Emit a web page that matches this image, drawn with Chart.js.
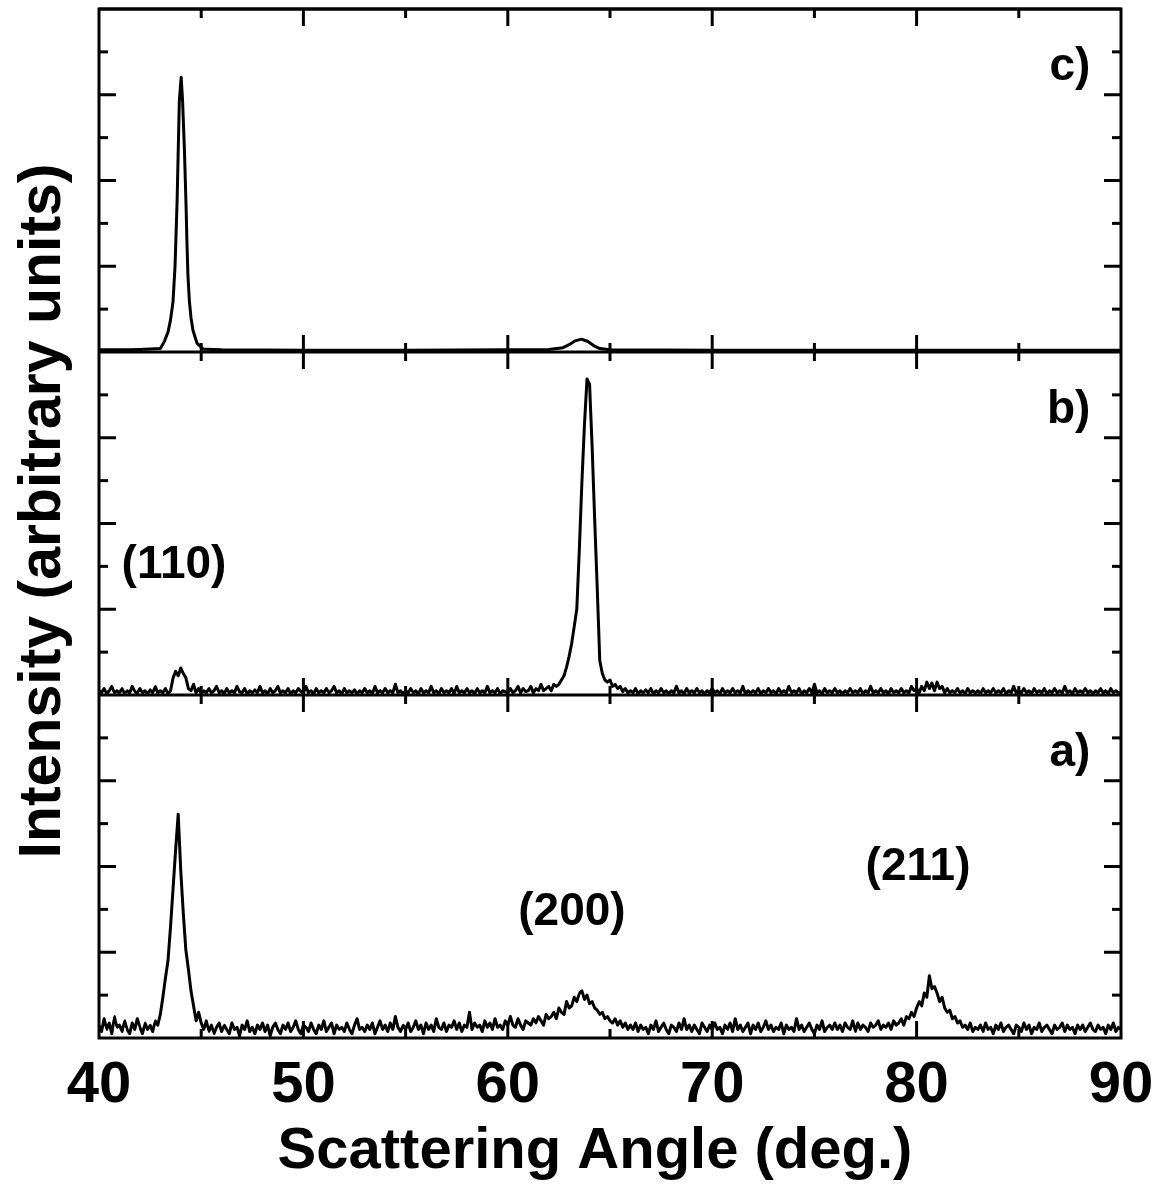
<!DOCTYPE html>
<html>
<head>
<meta charset="utf-8">
<script src="https://cdn.jsdelivr.net/npm/chart.js@4/dist/chart.umd.min.js"></script>
<style>
html,body{margin:0;padding:0;background:#fff;}
#wrap{width:1159px;height:1185px;}
</style>
</head>
<body>
<div id="wrap"><canvas id="c" width="1159" height="1185"></canvas></div>
<script>
// ---------- data ----------
// shared scattering-angle grid for scans a) and b)
const angles = [
40,40.125,40.25,40.375,40.5,40.625,40.75,40.875,
41,41.125,41.25,41.375,41.5,41.625,41.75,41.875,
42,42.125,42.25,42.375,42.5,42.625,42.75,42.875,
43,43.125,43.25,43.375,43.5,43.625,43.75,43.875,
44,44.125,44.25,44.375,44.5,44.625,44.75,44.875,
45,45.125,45.25,45.375,45.5,45.625,45.75,45.875,
46,46.125,46.25,46.375,46.5,46.625,46.75,46.875,
47,47.125,47.25,47.375,47.5,47.625,47.75,47.875,
48,48.125,48.25,48.375,48.5,48.625,48.75,48.875,
49,49.125,49.25,49.375,49.5,49.625,49.75,49.875,
50,50.125,50.25,50.375,50.5,50.625,50.75,50.875,
51,51.125,51.25,51.375,51.5,51.625,51.75,51.875,
52,52.125,52.25,52.375,52.5,52.625,52.75,52.875,
53,53.125,53.25,53.375,53.5,53.625,53.75,53.875,
54,54.125,54.25,54.375,54.5,54.625,54.75,54.875,
55,55.125,55.25,55.375,55.5,55.625,55.75,55.875,
56,56.125,56.25,56.375,56.5,56.625,56.75,56.875,
57,57.125,57.25,57.375,57.5,57.625,57.75,57.875,
58,58.125,58.25,58.375,58.5,58.625,58.75,58.875,
59,59.125,59.25,59.375,59.5,59.625,59.75,59.875,
60,60.125,60.25,60.375,60.5,60.625,60.75,60.875,
61,61.125,61.25,61.375,61.5,61.625,61.75,61.875,
62,62.125,62.25,62.375,62.5,62.625,62.75,62.875,
63,63.125,63.25,63.375,63.5,63.625,63.75,63.875,
64,64.125,64.25,64.375,64.5,64.625,64.75,64.875,
65,65.125,65.25,65.375,65.5,65.625,65.75,65.875,
66,66.125,66.25,66.375,66.5,66.625,66.75,66.875,
67,67.125,67.25,67.375,67.5,67.625,67.75,67.875,
68,68.125,68.25,68.375,68.5,68.625,68.75,68.875,
69,69.125,69.25,69.375,69.5,69.625,69.75,69.875,
70,70.125,70.25,70.375,70.5,70.625,70.75,70.875,
71,71.125,71.25,71.375,71.5,71.625,71.75,71.875,
72,72.125,72.25,72.375,72.5,72.625,72.75,72.875,
73,73.125,73.25,73.375,73.5,73.625,73.75,73.875,
74,74.125,74.25,74.375,74.5,74.625,74.75,74.875,
75,75.125,75.25,75.375,75.5,75.625,75.75,75.875,
76,76.125,76.25,76.375,76.5,76.625,76.75,76.875,
77,77.125,77.25,77.375,77.5,77.625,77.75,77.875,
78,78.125,78.25,78.375,78.5,78.625,78.75,78.875,
79,79.125,79.25,79.375,79.5,79.625,79.75,79.875,
80,80.125,80.25,80.375,80.5,80.625,80.75,80.875,
81,81.125,81.25,81.375,81.5,81.625,81.75,81.875,
82,82.125,82.25,82.375,82.5,82.625,82.75,82.875,
83,83.125,83.25,83.375,83.5,83.625,83.75,83.875,
84,84.125,84.25,84.375,84.5,84.625,84.75,84.875,
85,85.125,85.25,85.375,85.5,85.625,85.75,85.875,
86,86.125,86.25,86.375,86.5,86.625,86.75,86.875,
87,87.125,87.25,87.375,87.5,87.625,87.75,87.875,
88,88.125,88.25,88.375,88.5,88.625,88.75,88.875,
89,89.125,89.25,89.375,89.5,89.625,89.75,89.875,
90];

// scan a) (bottom panel)
const intensityA = [
0.3,0.15,0.45,0.2,0.35,0.1,0.5,0.25,
0.3,0.15,0.4,0.2,0.1,0.35,0.2,0.45,
0.25,0.1,0.35,0.2,0.3,0.15,0.4,0.3,
0.55,0.95,1.4,1.8,2.6,3.5,4.4,5.22,
3.9,2.9,2.05,1.6,1.1,0.75,0.4,0.6,
0.35,0.2,0.4,0.15,0.3,0.1,0.25,0.35,
0.15,0.3,0.2,0.1,0.35,0.2,0.25,0.05,
0.3,0.2,0.4,0.15,0.25,0.1,0.3,0.2,
0.35,0.15,0.3,0.05,0.25,0.35,0.2,0.1,
0.3,0.2,0.35,0.15,0.25,0.4,0.2,0.1,
0.3,0.25,0.15,0.35,0.2,0.1,0.3,0.2,
0.4,0.15,0.25,0.35,0.1,0.3,0.2,0.25,
0.15,0.35,0.2,0.1,0.3,0.45,0.2,0.25,
0.15,0.3,0.2,0.35,0.1,0.25,0.4,0.2,
0.3,0.15,0.35,0.2,0.5,0.25,0.15,0.3,
0.2,0.35,0.15,0.25,0.4,0.2,0.3,0.1,
0.35,0.2,0.3,0.15,0.45,0.25,0.2,0.35,
0.15,0.3,0.25,0.4,0.2,0.35,0.15,0.3,
0.25,0.6,0.2,0.35,0.25,0.3,0.15,0.4,
0.25,0.35,0.2,0.45,0.25,0.3,0.2,0.4,
0.3,0.5,0.3,0.25,0.45,0.3,0.2,0.4,
0.35,0.3,0.45,0.35,0.5,0.4,0.3,0.55,
0.45,0.5,0.6,0.45,0.7,0.6,0.55,0.85,
0.7,0.75,0.95,0.85,1.05,1.1,0.9,1.0,
0.8,0.85,0.7,0.65,0.55,0.6,0.45,0.5,
0.4,0.35,0.45,0.3,0.4,0.25,0.35,0.2,
0.3,0.2,0.35,0.15,0.3,0.2,0.25,0.1,
0.3,0.2,0.4,0.15,0.25,0.35,0.2,0.1,
0.3,0.25,0.15,0.35,0.2,0.45,0.2,0.3,
0.15,0.3,0.2,0.1,0.35,0.25,0.15,0.3,
0.2,0.35,0.2,0.25,0.1,0.3,0.2,0.35,
0.15,0.45,0.2,0.3,0.15,0.25,0.35,0.1,
0.3,0.2,0.35,0.15,0.25,0.4,0.2,0.3,
0.15,0.25,0.2,0.35,0.1,0.3,0.2,0.25,
0.15,0.45,0.2,0.3,0.15,0.25,0.35,0.2,
0.1,0.3,0.2,0.4,0.15,0.25,0.3,0.2,
0.35,0.2,0.3,0.15,0.35,0.25,0.2,0.4,
0.15,0.35,0.2,0.3,0.25,0.15,0.35,0.25,
0.3,0.4,0.2,0.3,0.25,0.35,0.2,0.4,
0.3,0.35,0.45,0.3,0.5,0.45,0.6,0.5,
0.7,0.85,0.75,1.05,0.95,1.45,1.15,1.2,
1.05,0.85,0.95,0.7,0.6,0.65,0.45,0.5,
0.35,0.4,0.25,0.3,0.2,0.35,0.15,0.25,
0.2,0.3,0.15,0.35,0.2,0.25,0.1,0.3,
0.2,0.35,0.15,0.25,0.3,0.2,0.1,0.3,
0.25,0.15,0.35,0.2,0.3,0.1,0.25,0.2,
0.35,0.15,0.25,0.3,0.2,0.1,0.3,0.2,
0.25,0.35,0.15,0.3,0.2,0.25,0.1,0.3,
0.2,0.3,0.15,0.25,0.35,0.2,0.15,0.3,
0.2,0.25,0.1,0.3,0.2,0.35,0.15,0.25,
0.2];

// scan b) (middle panel)
const intensityB = [
0.1,0.05,0.15,0.03,0.1,0.2,0.05,0.1,
0.05,0.15,0.03,0.1,0.05,0.2,0.08,0.05,
0.15,0.05,0.1,0.03,0.12,0.05,0.2,0.05,
0.1,0.05,0.15,0.03,0.1,0.4,0.55,0.45,
0.63,0.5,0.4,0.15,0.1,0.25,0.05,0.15,
0.03,0.1,0.05,0.15,0.05,0.1,0.2,0.05,
0.1,0.03,0.15,0.05,0.1,0.05,0.2,0.08,
0.05,0.15,0.03,0.1,0.05,0.12,0.05,0.2,
0.05,0.1,0.03,0.15,0.05,0.1,0.2,0.05,
0.1,0.05,0.15,0.03,0.1,0.05,0.15,0.08,
0.05,0.2,0.05,0.1,0.03,0.15,0.05,0.1,
0.05,0.15,0.05,0.1,0.2,0.05,0.1,0.03,
0.15,0.05,0.1,0.05,0.12,0.03,0.1,0.05,
0.15,0.05,0.1,0.03,0.2,0.05,0.1,0.05,
0.15,0.05,0.1,0.05,0.25,0.05,0.1,0.03,
0.1,0.05,0.15,0.05,0.1,0.03,0.15,0.05,
0.1,0.05,0.2,0.05,0.1,0.03,0.15,0.05,
0.1,0.05,0.15,0.03,0.2,0.05,0.1,0.05,
0.15,0.05,0.1,0.03,0.15,0.05,0.1,0.05,
0.2,0.05,0.1,0.05,0.15,0.03,0.1,0.08,
0.05,0.15,0.05,0.1,0.2,0.05,0.15,0.08,
0.1,0.2,0.05,0.15,0.1,0.25,0.1,0.15,
0.2,0.1,0.25,0.2,0.25,0.35,0.45,0.65,
0.9,1.2,1.6,2.0,3.4,4.96,6.3,7.37,
7.25,5.8,4.1,2.5,0.8,0.5,0.35,0.3,
0.35,0.2,0.25,0.15,0.2,0.08,0.15,0.05,
0.1,0.05,0.15,0.03,0.1,0.05,0.12,0.05,
0.15,0.03,0.1,0.05,0.15,0.05,0.1,0.03,
0.1,0.05,0.2,0.05,0.1,0.03,0.15,0.05,
0.1,0.05,0.15,0.05,0.1,0.03,0.1,0.05,
0.15,0.05,0.1,0.03,0.15,0.05,0.1,0.05,
0.15,0.05,0.1,0.05,0.2,0.03,0.1,0.05,
0.1,0.05,0.15,0.03,0.1,0.05,0.15,0.05,
0.1,0.03,0.15,0.05,0.1,0.05,0.2,0.05,
0.1,0.05,0.15,0.03,0.1,0.05,0.15,0.05,
0.25,0.05,0.1,0.03,0.15,0.05,0.1,0.05,
0.15,0.05,0.1,0.03,0.1,0.05,0.15,0.05,
0.1,0.05,0.15,0.03,0.1,0.05,0.2,0.05,
0.1,0.05,0.15,0.05,0.1,0.03,0.15,0.05,
0.1,0.05,0.15,0.05,0.1,0.05,0.2,0.1,
0.15,0.05,0.2,0.1,0.3,0.15,0.28,0.1,
0.3,0.15,0.2,0.05,0.15,0.05,0.1,0.05,
0.15,0.05,0.1,0.03,0.15,0.05,0.1,0.05,
0.1,0.03,0.15,0.05,0.1,0.05,0.15,0.05,
0.1,0.05,0.15,0.03,0.1,0.05,0.2,0.05,
0.1,0.05,0.15,0.05,0.1,0.03,0.15,0.05,
0.1,0.05,0.15,0.03,0.1,0.05,0.15,0.05,
0.1,0.05,0.2,0.05,0.1,0.03,0.15,0.05,
0.1,0.05,0.15,0.05,0.1,0.03,0.1,0.05,
0.15,0.05,0.1,0.03,0.15,0.05,0.1,0.05,
0.05];

// scan c) (top panel, smooth)
const anglesC = [40.0,41.0,42.0,42.5,43.0,43.2,43.38,43.5,43.62,43.72,43.82,43.93,44.02,44.09,44.18,44.26,44.3,44.35,44.42,44.5,44.6,44.8,45.1,
46.0,50.0,55.0,60.0,62.0,62.7,63.0,63.3,63.6,63.9,64.2,64.5,65.0,70.0,80.0,90.0];
const intensityC = [0.05,0.05,0.06,0.07,0.08,0.25,0.47,0.75,1.17,2.0,3.5,5.85,6.41,5.85,4.7,3.4,2.6,1.8,1.2,0.8,0.5,0.2,0.07,
0.05,0.04,0.04,0.05,0.06,0.1,0.17,0.26,0.3,0.25,0.15,0.08,0.05,0.04,0.04,0.04];

const xTickValues = [45,50,55,60,65,70,75,80,85];
const yTickValues = [1,2,3,4,5,6,7];
const panelLabels = ['a)','b)','c)'];
const peakLabels = ['(110)','(200)','(211)'];
const xTitle = 'Scattering Angle (deg.)';
const yTitle = 'Intensity (arbitrary units)';

// ---------- chart ----------
const FONT = "'Liberation Sans', Arial, Helvetica, sans-serif";
const toPts = (xs, ys) => xs.map((x, i) => ({x: x, y: ys[i]}));

const framePlugin = {
  id: 'frame',
  afterDatasetsDraw(chart) {
    const {ctx, chartArea: ca, scales} = chart;
    const sx = scales.x;
    const panels = [scales.yA, scales.yB, scales.yC];
    ctx.save();
    ctx.strokeStyle = '#000';
    ctx.lineWidth = 3;
    ctx.lineCap = 'butt';
    const seg = (x1, y1, x2, y2) => { ctx.beginPath(); ctx.moveTo(x1, y1); ctx.lineTo(x2, y2); ctx.stroke(); };
    ctx.strokeRect(ca.left, ca.top, ca.right - ca.left, ca.bottom - ca.top);
    panels.forEach(s => {
      const y0 = s.getPixelForValue(0), y8 = s.getPixelForValue(8);
      seg(ca.left, y8, ca.right, y8);
      xTickValues.forEach(v => {
        const len = v % 10 === 0 ? 17 : 9;
        const px = sx.getPixelForValue(v);
        seg(px, y0, px, y0 - len);
        seg(px, y8, px, y8 + len);
      });
      yTickValues.forEach(v => {
        const len = v % 2 === 0 ? 17 : 9;
        const py = s.getPixelForValue(v);
        seg(ca.left, py, ca.left + len, py);
        seg(ca.right, py, ca.right - len, py);
      });
    });
    // panel labels
    ctx.fillStyle = '#000';
    ctx.textBaseline = 'alphabetic';
    ctx.font = 'bold 46px ' + FONT;
    ctx.textAlign = 'right';
    panels.forEach((s, i) => {
      ctx.fillText(panelLabels[i], sx.getPixelForValue(88.5), s.getPixelForValue(6.35));
    });
    ctx.textAlign = 'center';
    ctx.fillText(peakLabels[0], sx.getPixelForValue(43.67), scales.yB.getPixelForValue(2.73));
    ctx.fillText(peakLabels[1], sx.getPixelForValue(63.14), scales.yA.getPixelForValue(2.64));
    ctx.fillText(peakLabels[2], sx.getPixelForValue(80.07), scales.yA.getPixelForValue(3.69));
    // axis titles
    ctx.font = 'bold 58px ' + FONT;
    ctx.textAlign = 'center';
    ctx.fillText(xTitle, 595, 1168);
    ctx.save();
    ctx.translate(60, 511);
    ctx.rotate(-Math.PI / 2);
    ctx.font = 'bold 59px ' + FONT;
    ctx.fillText(yTitle, 0, 0);
    ctx.restore();
    ctx.restore();
  }
};

const lineStyle = {borderColor: '#000', borderWidth: 3, borderJoinStyle: 'round', pointRadius: 0, tension: 0.000001, fill: false, clip: false};

new Chart(document.getElementById('c'), {
  type: 'line',
  data: {
    datasets: [
      Object.assign({label: 'a)', data: toPts(angles, intensityA), yAxisID: 'yA'}, lineStyle),
      Object.assign({label: 'b)', data: toPts(angles, intensityB), yAxisID: 'yB'}, lineStyle),
      Object.assign({label: 'c)', data: toPts(anglesC, intensityC), yAxisID: 'yC'}, lineStyle)
    ]
  },
  options: {
    responsive: false,
    animation: false,
    events: [],
    layout: {padding: {left: 99, right: 38, top: 9, bottom: 0}},
    plugins: {legend: {display: false}, tooltip: {enabled: false}},
    scales: {
      x: {
        type: 'linear', position: 'bottom', min: 40, max: 90,
        afterFit(s) { s.height = 147; s.paddingLeft = 0; s.paddingRight = 0; },
        grid: {display: false, drawTicks: false},
        border: {display: false},
        ticks: {stepSize: 10, padding: 13, color: '#000', maxRotation: 0, autoSkip: false,
          font: {family: FONT, size: 58, weight: 'bold'}}
      },
      yA: {type: 'linear', display: false, min: 0, max: 24},
      yB: {type: 'linear', display: false, min: -8, max: 16},
      yC: {type: 'linear', display: false, min: -16, max: 8}
    }
  },
  plugins: [framePlugin]
});
</script>
</body>
</html>
